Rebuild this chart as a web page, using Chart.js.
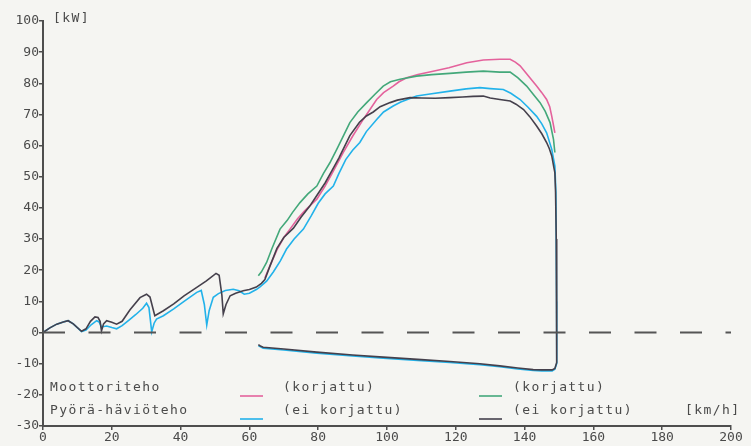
<!DOCTYPE html>
<html>
<head>
<meta charset="utf-8">
<script src="https://cdn.jsdelivr.net/npm/chart.js@4/dist/chart.umd.min.js"></script>
<style>
  html, body { margin: 0; padding: 0; background: #f5f5f2; }
  canvas { display: block; }
</style>
</head>
<body>
<canvas id="c" width="751" height="446"></canvas>
<script>
// Dyno run: engine power (acceleration) and wheel loss power (coast-down), km/h vs kW
const xTicks = [0, 20, 40, 60, 80, 100, 120, 140, 160, 180, 200];
const yTicks = [-30, -20, -10, 0, 10, 20, 30, 40, 50, 60, 70, 80, 90, 100];

// Run 2, uncorrected (dark): acceleration, drop at top speed, coast-down losses
const speedDark = [0, 2, 4, 5.9, 7.3, 8.8, 11.2, 12.5, 13.8, 15.1, 16.0, 16.6, 17.0, 17.6, 18.5, 20, 21.4, 23, 25.3, 28.2, 30.1, 31.1, 32.5, 35, 38, 41, 44.7, 47.5, 50.3, 51.2, 52.0, 52.4, 53.2, 54.4, 56, 58.2, 60, 62, 63.5, 64.5, 66, 68, 70, 72.8, 75, 77.5, 79.6, 82, 84, 86, 89.2, 92, 94, 96, 98, 100.9, 103, 106.7, 110, 114, 118.3, 122, 125, 128, 130, 132.8, 135.8, 137.5, 139.7, 141.5, 143.5, 145, 146.4, 147.2, 147.9, 148.5, 148.8, 149.0, 149.2, 149.3, 149.4, 149.3, 148.8, 148, 145, 142.5, 138, 132.8, 127, 118.3, 110, 98.9, 90, 79.6, 70, 64, 63.2, 62.6];
const powerDark = [0, 1.5, 2.7, 3.4, 3.8, 2.8, 0.4, 1.2, 3.6, 5.0, 4.8, 3.6, 0.5, 2.8, 3.8, 3.3, 2.7, 3.6, 7.3, 11.2, 12.3, 11.4, 5.4, 7.0, 9.2, 11.8, 14.5, 16.6, 19.0, 18.4, 12.0, 6.0, 9.0, 11.8, 12.6, 13.4, 13.8, 14.6, 15.8, 17.0, 21.4, 27.0, 30.5, 33.5, 37.0, 40.5, 44.0, 48.0, 52.0, 56.0, 63.2, 67.5, 69.5, 70.8, 72.5, 73.8, 74.6, 75.4, 75.3, 75.2, 75.4, 75.6, 75.8, 75.9, 75.3, 74.8, 74.3, 73.3, 71.6, 69.3, 66.3, 63.8, 61.0, 59.0, 56.7, 53.0, 51.3, 45, 30, 10, -5, -9.6, -11.5, -12, -12, -11.9, -11.4, -10.7, -10.0, -9.3, -8.7, -7.9, -7.2, -6.3, -5.3, -4.7, -4.3, -3.9];

// Run 1, uncorrected (cyan)
const speedCyan = [0, 2, 4, 5.9, 7.3, 8.8, 11.2, 12.5, 14, 15.6, 16.3, 17, 18.5, 20, 21.4, 23, 25, 27, 29, 30.1, 30.8, 31.6, 32.3, 33, 35, 38, 41, 44.7, 46.0, 46.9, 47.6, 48.3, 49.5, 51, 53, 55.3, 57, 58.5, 60, 62, 63, 65, 67, 69, 70.8, 73, 75.7, 78, 80, 82, 84.4, 86, 88, 90, 92.1, 94, 97, 99, 101.8, 104, 108.6, 112, 118.3, 123, 127, 130, 133.8, 136, 138.7, 141, 143.5, 145, 146.4, 147.9, 148.8, 149.1, 149.3, 149.4, 149.3, 148.8, 148, 145, 142.5, 138, 132.8, 127, 118.3, 110, 98.9, 90, 79.6, 70, 64, 63.2, 62.6];
const powerCyan = [0, 1.5, 2.7, 3.4, 3.8, 2.8, 0.3, 0.8, 2.5, 3.8, 3.4, 1.8, 2.1, 1.6, 1.2, 2.2, 4.0, 5.8, 7.8, 9.4, 8.0, 0.2, 3.0, 4.3, 5.4, 7.6, 10.0, 12.9, 13.5, 9.0, 2.4, 7.0, 11.3, 12.5, 13.5, 13.9, 13.4, 12.3, 12.6, 13.8, 14.6, 16.5, 19.5, 23.0, 26.8, 30.0, 33.2, 37.5, 41.5, 44.5, 47.0, 51.0, 55.5, 58.5, 61.0, 64.5, 68.4, 70.8, 72.7, 74.0, 75.9, 76.5, 77.5, 78.2, 78.6, 78.3, 78.0, 76.8, 74.8, 72.3, 69.4, 67.0, 64.1, 58.8, 53.4, 45, 10, -5, -9.9, -11.8, -12.3, -12.3, -12.2, -11.7, -11.0, -10.3, -9.6, -9.0, -8.2, -7.5, -6.6, -5.6, -5.0, -4.6, -4.2];

// Run 1, corrected (pink)
const speedPink = [64.5, 66, 68, 70, 71.8, 74, 76, 79.6, 82, 84, 87.3, 90, 93.1, 95, 97, 99, 101.8, 103.5, 105.7, 109, 113.4, 118, 123.2, 128, 132.8, 135.8, 137.3, 138.7, 141, 143.5, 145, 146.4, 147.3, 147.9, 148.4, 148.8];
const powerPink = [17.5, 21.5, 26.5, 30.5, 33.2, 36.5, 39.0, 42.8, 47.0, 51.0, 57.8, 63.0, 68.4, 71.5, 74.8, 77.0, 79.1, 80.5, 81.8, 82.8, 83.9, 85.0, 86.6, 87.5, 87.7, 87.7, 86.8, 85.6, 82.5, 79.1, 77.0, 74.8, 72.5, 69.4, 66.5, 64.1];

// Run 2, corrected (green)
const speedGreen = [62.6, 63.5, 65, 66.5, 68.9, 71, 72.5, 74.7, 77, 79.6, 81.5, 83.4, 85.5, 87.5, 89.2, 91.5, 94.1, 96.5, 98.9, 101, 103.8, 108.6, 113, 118.3, 123, 128, 132.8, 135.8, 138, 140.6, 142.5, 144.5, 146, 147.4, 148.4, 148.8];
const powerGreen = [18.2, 19.5, 22.5, 26.8, 33.2, 36.0, 38.5, 41.7, 44.5, 47.0, 51.0, 54.5, 59.0, 63.5, 67.4, 70.8, 73.8, 76.5, 79.1, 80.5, 81.3, 82.3, 82.8, 83.2, 83.6, 83.9, 83.6, 83.6, 81.8, 79.1, 76.5, 73.8, 71.0, 67.4, 62.0, 57.8];

// Zero reference line
const zeroLineX = [0, 200];
const zeroLineY = [0, 0];

const COLORS = {
  pink: '#e4629c',
  green: '#43a87a',
  cyan: '#22b2ea',
  dark: '#45404c',
  axis: '#4e4e4e',
  text: '#4a4a4a'
};

const toPoints = (xs, ys) => xs.map((x, i) => ({ x, y: ys[i] }));
const FONT = '"DejaVu Sans Mono", "Liberation Mono", monospace';

const lineStyle = (color) => ({
  borderColor: color,
  backgroundColor: color,
  borderWidth: 1.6,
  pointRadius: 0,
  tension: 0,
  fill: false
});

// Paper background
const paperPlugin = {
  id: 'paper',
  beforeDraw(chart) {
    const ctx = chart.ctx;
    ctx.save();
    ctx.fillStyle = '#f5f5f2';
    ctx.fillRect(0, 0, chart.width, chart.height);
    ctx.restore();
  }
};

// Unit labels and the two-run legend block
const legendPlugin = {
  id: 'legendBlock',
  afterDraw(chart) {
    const ctx = chart.ctx;
    ctx.save();
    ctx.font = '13px ' + FONT;
    ctx.letterSpacing = '1.4px';
    ctx.fillStyle = COLORS.text;
    ctx.textBaseline = 'middle';
    ctx.textAlign = 'left';

    ctx.fillText('[kW]', 53, 19);
    ctx.fillText('[km/h]', 685, 411);

    ctx.fillText('Moottoriteho', 50, 388);
    ctx.fillText('Pyörä-häviöteho', 50, 411);

    ctx.fillText('(korjattu)', 283, 388);
    ctx.fillText('(ei korjattu)', 283, 411);
    ctx.fillText('(korjattu)', 513, 388);
    ctx.fillText('(ei korjattu)', 513, 411);

    const seg = (x1, x2, y, color) => {
      ctx.strokeStyle = color;
      ctx.lineWidth = 1.6;
      ctx.beginPath();
      ctx.moveTo(x1, y);
      ctx.lineTo(x2, y);
      ctx.stroke();
    };
    seg(240, 263, 396, COLORS.pink);
    seg(240, 263, 419, COLORS.cyan);
    seg(479, 502, 396, COLORS.green);
    seg(479, 502, 419, COLORS.dark);
    ctx.restore();
  }
};

new Chart(document.getElementById('c'), {
  type: 'line',
  data: {
    datasets: [
      Object.assign({ label: 'Run 2 (ei korjattu)', data: toPoints(speedDark, powerDark), order: 1 }, lineStyle(COLORS.dark)),
      Object.assign({ label: 'Run 1 (ei korjattu)', data: toPoints(speedCyan, powerCyan), order: 2 }, lineStyle(COLORS.cyan)),
      Object.assign({ label: 'Run 2 (korjattu)', data: toPoints(speedGreen, powerGreen), order: 3 }, lineStyle(COLORS.green)),
      Object.assign({ label: 'Run 1 (korjattu)', data: toPoints(speedPink, powerPink), order: 4 }, lineStyle(COLORS.pink)),
      {
        label: 'zero',
        data: toPoints(zeroLineX, zeroLineY),
        borderColor: '#555555',
        borderWidth: 2,
        borderDash: [22, 23.5],
        pointRadius: 0,
        order: 0
      }
    ]
  },
  options: {
    responsive: false,
    animation: false,
    devicePixelRatio: 1,
    layout: { padding: { top: 21, right: 20, left: 0, bottom: 0 } },
    plugins: {
      legend: { display: false },
      tooltip: { enabled: false }
    },
    scales: {
      x: {
        type: 'linear',
        min: 0,
        max: 200,
        afterBuildTicks(scale) { scale.ticks = xTicks.map(v => ({ value: v })); },
        afterFit(scale) { scale.height = 20; },
        ticks: {
          color: COLORS.text,
          font: { family: FONT, size: 13 },
          padding: 0,
          maxRotation: 0,
          autoSkip: false
        },
        grid: { drawOnChartArea: false, drawTicks: true, tickLength: 4, color: COLORS.axis, lineWidth: 1.5 },
        border: { display: true, color: COLORS.axis, width: 2 }
      },
      y: {
        type: 'linear',
        min: -30,
        max: 100,
        afterBuildTicks(scale) { scale.ticks = yTicks.map(v => ({ value: v })); },
        afterFit(scale) { scale.width = 43; },
        ticks: {
          color: COLORS.text,
          font: { family: FONT, size: 13 },
          padding: 0,
          autoSkip: false
        },
        grid: { drawOnChartArea: false, drawTicks: true, tickLength: 4, color: COLORS.axis, lineWidth: 1.5 },
        border: { display: true, color: COLORS.axis, width: 2 }
      }
    }
  },
  plugins: [paperPlugin, legendPlugin]
});
</script>
</body>
</html>
